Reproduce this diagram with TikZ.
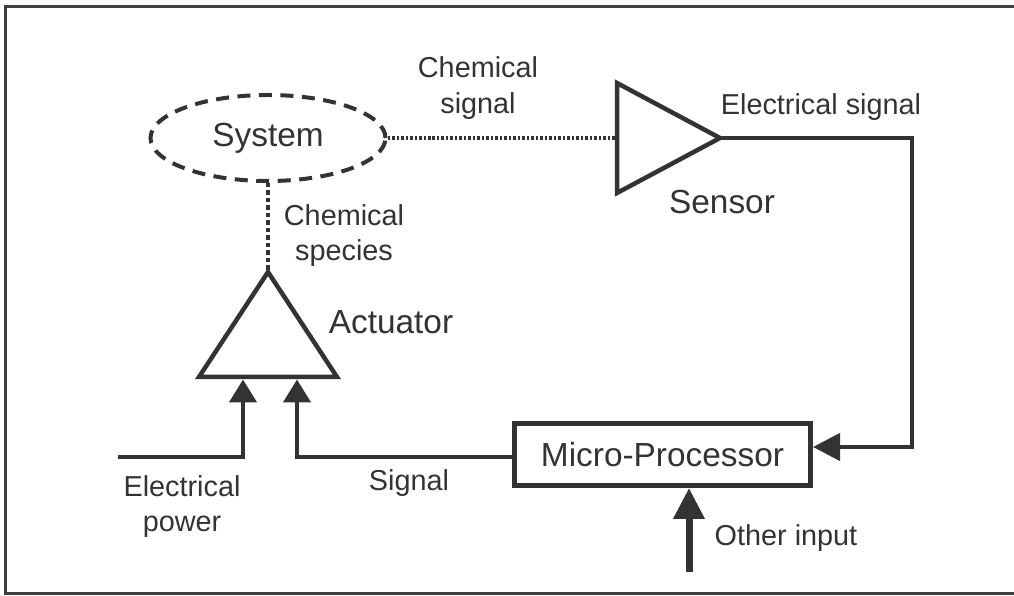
\documentclass[tikz,border=0pt]{standalone}
\usepackage{fontspec}
\setmainfont{Liberation Sans}
\usetikzlibrary{arrows.meta,shapes.geometric,positioning}

\begin{document}
\begin{tikzpicture}[
  line join=miter,
  wire/.style={line width=0.09cm, draw=black!80},
  arr/.style={wire, -{Triangle[length=0.46cm,width=0.54cm]}},
  boxarr/.style={wire, -{Triangle[length=0.54cm,width=0.54cm]}},
  otharr/.style={line width=0.14cm, draw=black!80, -{Triangle[length=0.62cm,width=0.6cm]}},
  chemline/.style={line width=0.07cm, draw=black!80, dash pattern=on 0.05cm off 0.04cm},
  specline/.style={line width=0.08cm, draw=black!80, dash pattern=on 0.09cm off 0.06cm},
  lbl/.style={font=\fontsize{16.4}{20}\selectfont, text=black!80, align=center, inner sep=0pt},
  biglbl/.style={font=\fontsize{19}{23}\selectfont, text=black!80, inner sep=0pt},
]

\useasboundingbox (0,0) rectangle (20.28,11.92);

% Frame
\draw[line width=0.06cm, black!75] (20.28,11.78) -- (0.12,11.78) -- (0.12,0.04) -- (20.28,0.04);

% System
\node[biglbl, ellipse, draw=black!80, line width=0.08cm, dash pattern=on 0.26cm off 0.17cm,
      minimum width=4.7cm, minimum height=1.72cm] (sys) at (5.36,9.16) {System};

% Sensor
\coordinate (sen-a) at (12.34,10.26);
\coordinate (sen-b) at (12.34,8.06);
\coordinate (sen-o) at (14.40,9.16);
\coordinate (sen-i) at (12.34,9.16);
\draw[wire] (sen-a) -- (sen-o) -- (sen-b) -- cycle;

% Actuator
\coordinate (act-top) at (5.36,6.48);
\coordinate (act-l) at (3.98,4.38);
\coordinate (act-r) at (6.74,4.38);
\draw[wire] (act-top) -- (act-r) -- (act-l) -- cycle;
\coordinate (act-p) at (4.86,4.33);
\coordinate (act-s) at (5.94,4.33);

% Micro-Processor
\node[biglbl, draw=black!80, line width=0.1cm, minimum width=5.92cm, minimum height=1.24cm]
  (mp) at (13.25,2.83) {Micro-Processor};

% Free ends
\coordinate (elbow) at (18.24,2.98);
\coordinate (pwr) at (2.36,2.78);
\coordinate (oth) at (13.78,0.48);

% Connectors
\draw[chemline] (sys.east) -- (sen-i);
\draw[specline] (sys.south) -- (act-top);
\draw[boxarr] (sen-o) -| (elbow) -- (elbow -| mp.east);
\draw[arr] (mp.west |- pwr) -| (act-s);
\draw[arr] (pwr) -| (act-p);
\draw[otharr] (oth) -- (oth |- mp.south);

% Labels
\node[lbl] (chemsig) at (9.56,10.16) {Chemical\\signal};
\node[lbl] (elsig) at (16.42,9.78) {Electrical signal};
\node[biglbl] (senlbl) at (14.44,7.88) {Sensor};
\node[lbl] (chemsp) at (6.88,7.21) {Chemical\\species};
\node[biglbl] (actlbl) at (7.82,5.48) {Actuator};
\node[lbl] (pwrlbl) at (3.64,1.79) {Electrical\\power};
\node[lbl] (siglbl) at (8.18,2.26) {Signal};
\node[lbl] (othlbl) at (15.72,1.16) {Other input};

\end{tikzpicture}
\end{document}
